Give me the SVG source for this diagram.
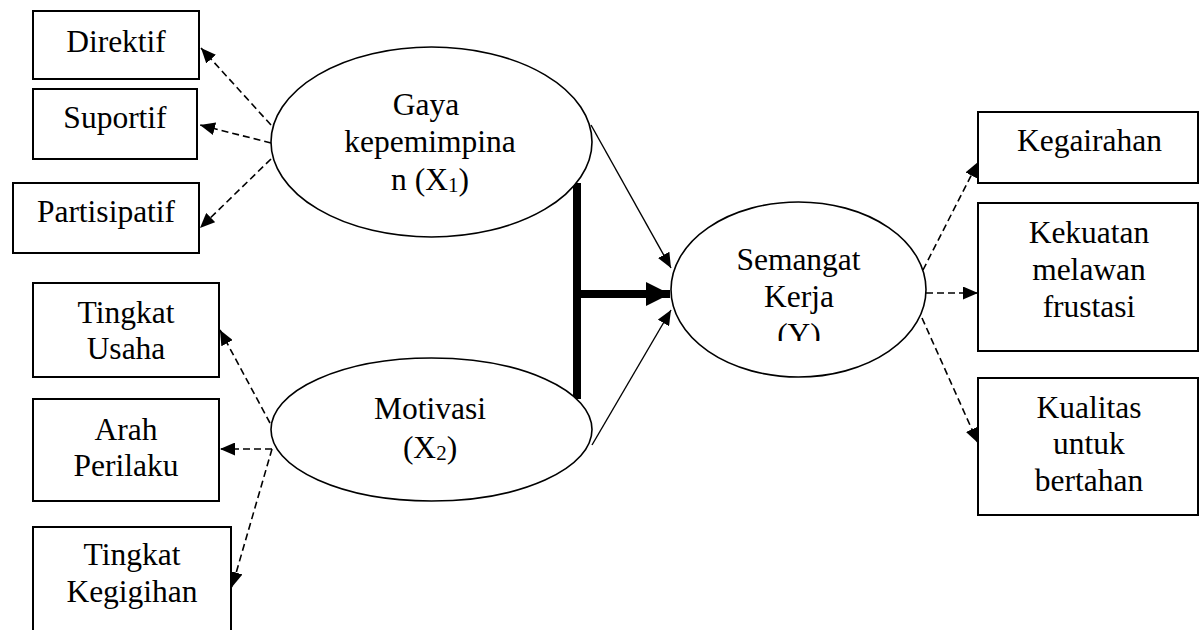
<svg xmlns="http://www.w3.org/2000/svg" width="1199" height="630" viewBox="0 0 1199 630">
<style>
.box{fill:#fff;stroke:#000;stroke-width:2}
.ell{fill:#fff;stroke:#000;stroke-width:1.6}
.t{font-family:"Liberation Serif","Times New Roman",serif;font-size:31.5px;fill:#000;text-anchor:middle}
.sub{font-size:21px}
.dash{fill:none;stroke:#000;stroke-width:1.6;stroke-dasharray:7 4}
.solid{fill:none;stroke:#000;stroke-width:1.4}
.thick{fill:none;stroke:#000;stroke-width:8}
</style>
<defs>
<marker id="ah" markerUnits="userSpaceOnUse" markerWidth="15" markerHeight="13" viewBox="0 0 15 13" refX="15" refY="6.5" orient="auto">
<path d="M0,0 L15,6.5 L0,13 z" fill="#000"/>
</marker>
<marker id="ahb" markerUnits="userSpaceOnUse" markerWidth="24" markerHeight="24" viewBox="0 0 24 24" refX="24" refY="12" orient="auto">
<path d="M0,0 L24,12 L0,24 z" fill="#000"/>
</marker>
<clipPath id="clipY"><rect x="700" y="200" width="200" height="141"/></clipPath>
</defs>
<rect width="1199" height="630" fill="#fff"/>
<g id="connectors">
<line class="dash" x1="271" y1="125" x2="201" y2="48" marker-end="url(#ah)"/>
<line class="dash" x1="271" y1="143" x2="200" y2="125" marker-end="url(#ah)"/>
<line class="dash" x1="271" y1="159" x2="200" y2="228" marker-end="url(#ah)"/>
<line class="dash" x1="270" y1="423" x2="220" y2="330" marker-end="url(#ah)"/>
<line class="dash" x1="272" y1="449" x2="220" y2="449" marker-end="url(#ah)"/>
<line class="dash" x1="272" y1="449" x2="232" y2="587" marker-end="url(#ah)"/>
<line class="solid" x1="591" y1="125" x2="671" y2="268" marker-end="url(#ah)"/>
<line class="solid" x1="592" y1="445" x2="671" y2="310" marker-end="url(#ah)"/>
<line class="thick" x1="577" y1="183" x2="577" y2="399"/>
<line class="thick" x1="577" y1="294" x2="670" y2="294" marker-end="url(#ahb)"/>
<line class="dash" x1="923" y1="270" x2="978" y2="162" marker-end="url(#ah)"/>
<line class="dash" x1="926" y1="293" x2="978" y2="293" marker-end="url(#ah)"/>
<line class="dash" x1="922" y1="318" x2="978" y2="443" marker-end="url(#ah)"/>
</g>
<g id="direktif">
<rect class="box" x="33" y="11" width="166" height="68"/>
<text class="t" x="116" y="52">Direktif</text>
</g>
<g id="suportif">
<rect class="box" x="33" y="89" width="164" height="70"/>
<text class="t" x="115" y="128">Suportif</text>
</g>
<g id="partisipatif">
<rect class="box" x="13" y="183" width="186" height="70"/>
<text class="t" x="106" y="222">Partisipatif</text>
</g>
<g id="tingkat-usaha">
<rect class="box" x="33" y="283" width="186" height="94"/>
<text class="t" x="126" y="323">Tingkat</text>
<text class="t" x="126" y="359">Usaha</text>
</g>
<g id="arah-perilaku">
<rect class="box" x="33" y="399" width="186" height="102"/>
<text class="t" x="126" y="440">Arah</text>
<text class="t" x="126" y="476">Perilaku</text>
</g>
<g id="tingkat-kegigihan">
<rect class="box" x="33" y="527" width="198" height="120"/>
<text class="t" x="132" y="565">Tingkat</text>
<text class="t" x="132" y="602">Kegigihan</text>
</g>
<g id="gaya">
<ellipse class="ell" cx="431.5" cy="142" rx="160.5" ry="95"/>
<text class="t" x="426" y="115">Gaya</text>
<text class="t" x="430" y="152">kepemimpina</text>
<text class="t" x="430" y="190">n (X<tspan class="sub" dy="2">1</tspan><tspan dy="-2">)</tspan></text>
</g>
<g id="motivasi">
<ellipse class="ell" cx="431.5" cy="429.5" rx="160.5" ry="71.5"/>
<text class="t" x="430" y="419">Motivasi</text>
<text class="t" x="430" y="458">(X<tspan class="sub" dy="2">2</tspan><tspan dy="-2">)</tspan></text>
</g>
<g id="semangat">
<ellipse class="ell" cx="798.5" cy="289.5" rx="127.5" ry="87.5"/>
<text class="t" x="798.5" y="270">Semangat</text>
<text class="t" x="799" y="307">Kerja</text>
<text class="t" x="799" y="345" clip-path="url(#clipY)">(Y)</text>
</g>
<g id="kegairahan">
<rect class="box" x="978" y="112" width="220" height="71"/>
<text class="t" x="1089.5" y="151">Kegairahan</text>
</g>
<g id="kekuatan">
<rect class="box" x="978" y="203" width="220" height="148"/>
<text class="t" x="1089" y="243">Kekuatan</text>
<text class="t" x="1089" y="280">melawan</text>
<text class="t" x="1089" y="317">frustasi</text>
</g>
<g id="kualitas">
<rect class="box" x="978" y="378" width="220" height="137"/>
<text class="t" x="1089" y="418">Kualitas</text>
<text class="t" x="1089" y="454">untuk</text>
<text class="t" x="1089" y="491">bertahan</text>
</g>
</svg>
